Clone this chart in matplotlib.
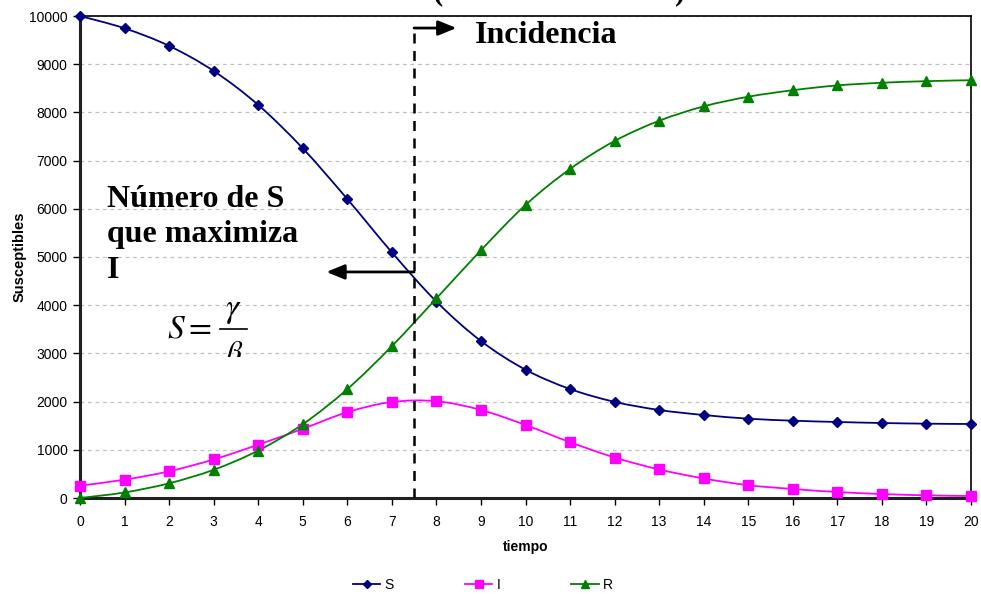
import numpy as np
import matplotlib
matplotlib.use('Agg')
import matplotlib.pyplot as plt
from matplotlib.path import Path
from matplotlib.patches import PathPatch
from matplotlib.lines import Line2D
from matplotlib.transforms import Bbox, TransformedBbox

# ---- data ----
t = list(range(21))
S = [10000, 9745, 9380, 8860, 8155, 7255, 6203, 5097, 4075, 3257, 2662,
     2261, 1995, 1826, 1722, 1646, 1604, 1577, 1556, 1542, 1535]
I = [256, 380, 554, 800, 1106, 1435, 1780, 1992, 2008, 1826, 1515,
     1158, 840, 592, 405, 265, 187, 124, 83, 55, 41]
R = [0, 115, 305, 585, 985, 1530, 2258, 3150, 4140, 5140, 6079,
     6826, 7407, 7826, 8125, 8325, 8460, 8560, 8615, 8648, 8668]
series_names = ['S', 'I', 'R']
xticks = list(range(0, 21))
yticks = list(range(0, 10001, 1000))
x_marker = 7.5          # vertical separation line
s_opt = 4690            # level marked by left arrow

plt.rcParams['font.family'] = ['Liberation Sans', 'DejaVu Sans']
plt.rcParams['mathtext.fontset'] = 'stix'

W, H = 981, 594
fig = plt.figure(figsize=(W/100, H/100), dpi=100)
ax = fig.add_axes([80/W, 1-498/H, (971-80)/W, (498-16)/H])


def fx(px):
    return px / W


def fy(py):
    return 1 - py / H


def smooth_path(x, y):
    x = np.asarray(x, float); y = np.asarray(y, float)
    n = len(x)
    verts = [(x[0], y[0])]; codes = [Path.MOVETO]
    for i in range(n-1):
        i0 = max(i-1, 0); i3 = min(i+2, n-1)
        c1 = (x[i] + (x[i+1]-x[i0])/6, y[i] + (y[i+1]-y[i0])/6)
        c2 = (x[i+1] - (x[i3]-x[i])/6, y[i+1] - (y[i3]-y[i])/6)
        verts += [c1, c2, (x[i+1], y[i+1])]
        codes += [Path.CURVE4]*3
    return Path(verts, codes)


styles = [
    (S, '#000080', 'D', 5.5),
    (I, '#FF00FF', 's', 7),
    (R, '#008000', '^', 7.5),
]
handles = []
for (vals, col, mk, ms), name in zip(styles, series_names):
    ax.add_patch(PathPatch(smooth_path(t, vals), facecolor='none',
                           edgecolor=col, lw=1.3, zorder=3))
    ax.plot(t, vals, linestyle='none', marker=mk, color=col, ms=ms,
            mec=col, zorder=4, clip_on=False)
    handles.append(Line2D([], [], color=col, marker=mk, ms=ms - 1.5, lw=1.3,
                          label=name))

ax.set_xlim(0, 20)
ax.set_ylim(0, 10000)
ax.set_xticks(xticks)
ax.set_yticks(yticks)
ax.tick_params(axis='both', labelsize=10, direction='out', length=5,
               width=1, color='black')
ax.tick_params(axis='x', pad=7)
ax.tick_params(axis='y', pad=4)
ax.yaxis.grid(True, color='#c0c0c0', linestyle=(0, (3, 3)), lw=0.9)
ax.set_axisbelow(True)
for side in ['top', 'right']:
    ax.spines[side].set_linewidth(1.2)
    ax.spines[side].set_color('black')
for side in ['left', 'bottom']:
    ax.spines[side].set_linewidth(2.2)
    ax.spines[side].set_color('#202020')

ax.set_xlabel('tiempo', fontsize=10, fontweight='bold', labelpad=8)
ax.set_ylabel('Susceptibles', fontsize=10.5, fontweight='bold', labelpad=2)

# vertical dashed separator
ax.plot([x_marker, x_marker], [0, 9760], color='black', lw=1.8,
        linestyle=(0, (4, 3)), zorder=5)
# arrow to the right at the top
ax.annotate('', xy=(8.45, 9750), xytext=(x_marker, 9750),
            arrowprops=dict(arrowstyle='-|>,head_length=1.1,head_width=0.45',
                            color='black', lw=2, shrinkA=0, shrinkB=0),
            zorder=6)
# arrow to the left
ax.annotate('', xy=(5.53, s_opt), xytext=(x_marker, s_opt),
            arrowprops=dict(arrowstyle='-|>,head_length=1.1,head_width=0.45',
                            color='black', lw=2, shrinkA=0, shrinkB=0),
            zorder=6)

serif = ['Liberation Serif', 'DejaVu Serif']
fig.text(fx(475), fy(43), 'Incidencia', family=serif, fontsize=23,
         fontweight='bold', ha='left', va='baseline')
fig.text(fx(107), fy(278), 'Número de S\nque maximiza\nI', family=serif,
         fontsize=23, fontweight='bold', ha='left', va='baseline',
         linespacing=1.3, multialignment='left')

# equation S = gamma / beta (bottom cut off, as in the original)
fig.text(fx(167), fy(338), r'$S=$', fontsize=24, ha='left', va='baseline')
fig.text(fx(233.5), fy(317), r'$\gamma$', fontsize=24, ha='center',
         va='baseline')
fig.add_artist(Line2D([fx(220), fx(247)], [fy(329), fy(329)], color='black',
                      lw=1.2))
beta = fig.text(fx(233.5), fy(364), r'$\beta$', fontsize=24, ha='center',
                va='baseline')
beta.set_clip_box(TransformedBbox(Bbox([[fx(150), fy(357)],
                                        [fx(300), fy(330)]]),
                                  fig.transFigure))
beta.set_clip_on(True)

# title parentheses, cut off by the top edge as in the original
fig.text(fx(438), fy(-1), '(', family=serif, fontsize=22,
         fontweight='bold', ha='center', va='baseline')
fig.text(fx(680), fy(-1), ')', family=serif, fontsize=22,
         fontweight='bold', ha='center', va='baseline')

fig.legend(handles=handles, loc='center', bbox_to_anchor=(fx(483), fy(585)),
           ncol=3, frameon=False, fontsize=10, handlelength=2.0,
           handletextpad=0.3, columnspacing=5.1)

fig.savefig('out.png', dpi=100)
